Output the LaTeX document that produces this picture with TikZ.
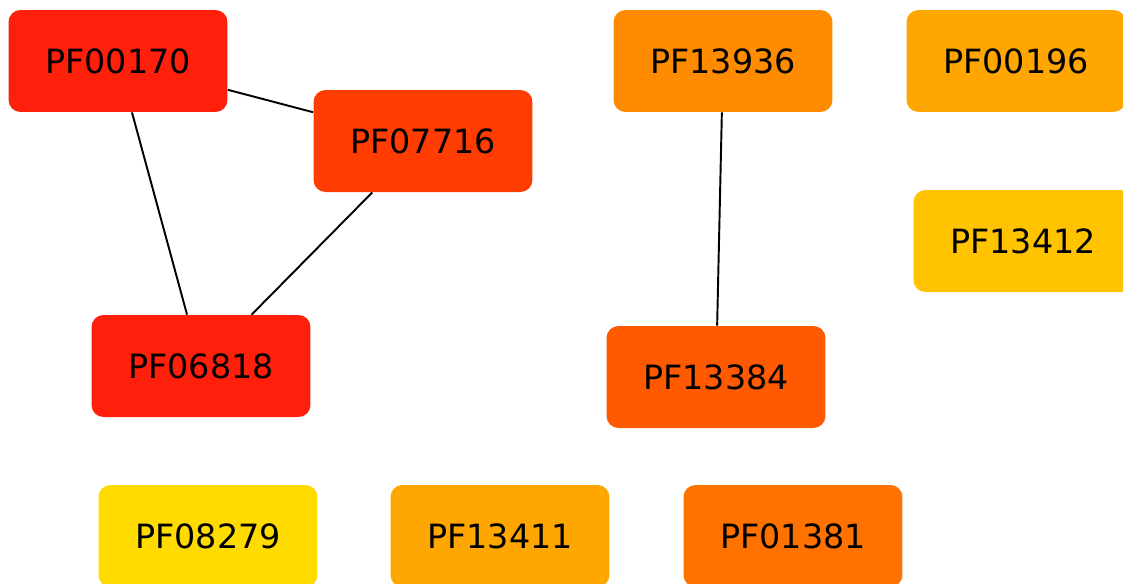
\documentclass[tikz,border=0pt]{standalone}
\usepackage{fontspec}
\setmainfont{DejaVu Sans}
\usepackage{tikz}
\usetikzlibrary{positioning}
\definecolor{domred}{HTML}{FF200C}
\definecolor{domredorange}{HTML}{FF3D02}
\definecolor{domorangered}{HTML}{FF5A00}
\definecolor{domdarkorange}{HTML}{FF7200}
\definecolor{domorange}{HTML}{FF8C00}
\definecolor{domamber}{HTML}{FFA600}
\definecolor{domgold}{HTML}{FFC300}
\definecolor{domyellow}{HTML}{FFDB00}

\begin{document}
\begin{tikzpicture}[
  x=0.02cm, y=-0.02cm,
  pfam/.style={rectangle, rounded corners=0.24cm, draw=none, minimum width=4.38cm, minimum height=2.04cm, font=\fontsize{19}{23}\selectfont, inner sep=0pt},
  link/.style={line width=1.1pt, black}
]
  \useasboundingbox (0,0) rectangle (1123,583);
  \clip (0,0) rectangle (1123,583);

  % Connected cluster
  \node[pfam, fill=domred] (pf00170) at (118,61) {PF00170};
  \node[pfam, fill=domredorange] (pf07716) at (423,141) {PF07716};
  \node[pfam, fill=domred] (pf06818) at (201,366) {PF06818};

  % Pair
  \node[pfam, fill=domorange] (pf13936) at (723,61) {PF13936};
  \node[pfam, fill=domorangered] (pf13384) at (716,377) {PF13384};

  % Single domains
  \node[pfam, fill=domamber] (pf00196) at (1016,61) {PF00196};
  \node[pfam, fill=domgold] (pf13412) at (1023,241) {PF13412};
  \node[pfam, fill=domyellow] (pf08279) at (208,536) {PF08279};
  \node[pfam, fill=domamber] (pf13411) at (500,536) {PF13411};
  \node[pfam, fill=domdarkorange] (pf01381) at (793,536) {PF01381};

  % Edges
  \draw[link] (pf00170) -- (pf07716);
  \draw[link] (pf00170) -- (pf06818);
  \draw[link] (pf07716) -- (pf06818);
  \draw[link] (pf13936) -- (pf13384);
\end{tikzpicture}
\end{document}
